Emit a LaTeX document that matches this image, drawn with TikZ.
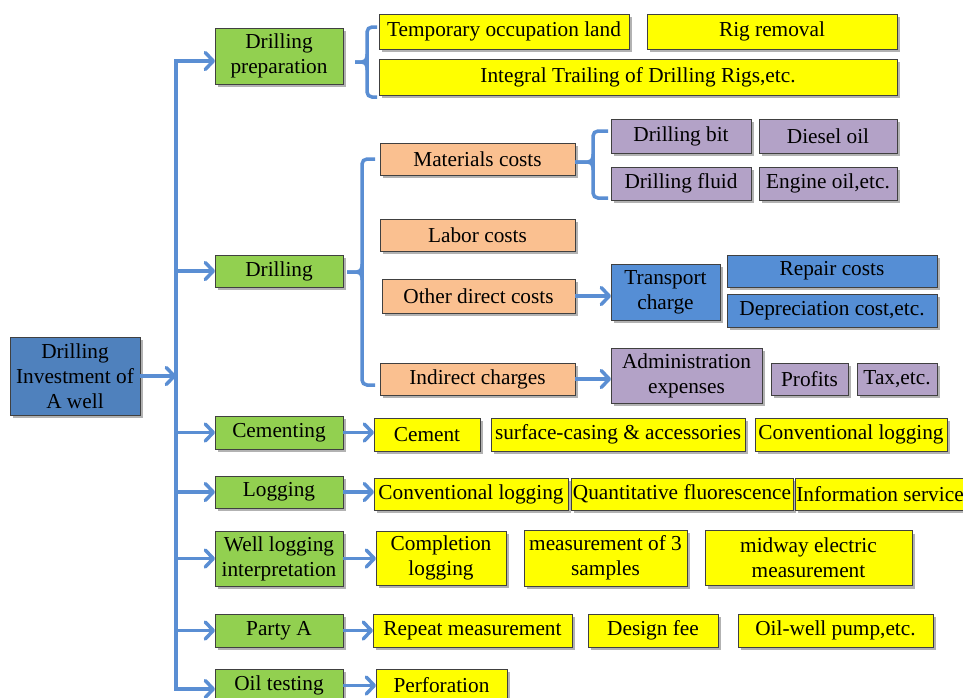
\documentclass[tikz,border=0pt]{standalone}
\usepackage{fontspec}
\setmainfont{Liberation Serif}
\usetikzlibrary{positioning,arrows.meta,shadows}

\definecolor{rootblue}{HTML}{4F81BD}
\definecolor{costblue}{HTML}{558ED5}
\definecolor{linkblue}{HTML}{5A8ED3}
\definecolor{stagegreen}{HTML}{92D050}
\definecolor{itemyellow}{HTML}{FFFF00}
\definecolor{costpeach}{HTML}{FAC090}
\definecolor{costpurple}{HTML}{B3A2C7}
\definecolor{boxline}{HTML}{404040}

\tikzset{
  box/.style={draw=boxline, line width=1pt, inner sep=0.5pt, outer sep=0pt,
    align=center, anchor=north west, font=\fontsize{21.3}{25}\selectfont,
    drop shadow={shadow xshift=3pt, shadow yshift=-3pt, fill=black, opacity=0.3}},
  greenbox/.style={box, fill=stagegreen, minimum width=128pt},
  yellowbox/.style={box, fill=itemyellow},
  peachbox/.style={box, fill=costpeach},
  purplebox/.style={box, fill=costpurple},
  bluebox/.style={box, fill=costblue},
  arr/.style={draw=linkblue, line width=3.5pt},
  brc/.style={draw=linkblue, line width=3.5pt, rounded corners=5pt},
}

\begin{document}
\begin{tikzpicture}[x=1pt, y=-1pt, >={Straight Barb[length=8pt,width=17pt,round]}]
\useasboundingbox (0,0) rectangle (963,697);
% whole investment
\node[box, fill=rootblue, minimum width=130pt, minimum height=78pt] (root) at (10,337) {Drilling\\Investment of\\A well};
% stages
\node[greenbox, minimum height=56pt] (prep) at (215,28) {Drilling\\preparation};
\node[greenbox, minimum height=32pt] (drill) at (215,255) {Drilling};
\node[greenbox, minimum height=33pt] (cement) at (215,416) {Cementing};
\node[greenbox, minimum height=32pt] (logging) at (215,476) {Logging};
\node[greenbox, minimum height=55pt] (interp) at (215,531) {Well logging\\interpretation};
\node[greenbox, minimum height=33pt] (partya) at (215,614) {Party A};
\node[greenbox, minimum height=33pt] (oiltest) at (215,669) {Oil testing};
% drilling preparation
\node[yellowbox, minimum width=250pt, minimum height=35pt] (land) at (379,14) {Temporary occupation land};
\node[yellowbox, minimum width=250pt, minimum height=35pt, right=18pt of land] (rig) {Rig removal};
\node[yellowbox, minimum width=518pt, minimum height=36pt] (trail) at (379,59) {Integral Trailing of Drilling Rigs,etc.};
% drilling
\node[peachbox, minimum width=195pt, minimum height=32pt] (mat) at (380,143) {Materials costs};
\node[peachbox, minimum width=195pt, minimum height=32pt] (labor) at (380,219) {Labor costs};
\node[peachbox, minimum width=193pt, minimum height=34pt] (other) at (382,279) {Other direct costs};
\node[peachbox, minimum width=195pt, minimum height=32pt] (indirect) at (380,363) {Indirect charges};
\node[purplebox, minimum width=140pt, minimum height=34pt] (bit) at (611,119) {Drilling bit};
\node[purplebox, minimum width=138pt, minimum height=34pt, right=8pt of bit] (diesel) {Diesel oil};
\node[purplebox, minimum width=140pt, minimum height=33pt] (fluid) at (611,167) {Drilling fluid};
\node[purplebox, minimum width=138pt, minimum height=33pt, right=8pt of fluid] (engine) {Engine oil,etc.};
\node[bluebox, minimum width=109pt, minimum height=56pt] (transport) at (611,264) {Transport\\charge};
\node[bluebox, minimum width=210pt, minimum height=32pt] (repair) at (727,255) {Repair costs};
\node[bluebox, minimum width=210pt, minimum height=33pt] (deprec) at (727,294) {Depreciation cost,etc.};
\node[purplebox, minimum width=151pt, minimum height=55pt] (admin) at (611,348) {Administration\\expenses};
\node[purplebox, minimum width=77pt, minimum height=32pt] (profits) at (771,363) {Profits};
\node[purplebox, minimum width=80pt, minimum height=32pt, right=9pt of profits] (tax) {Tax,etc.};
% cementing
\node[yellowbox, minimum width=106pt, minimum height=33pt] (cem) at (374,418) {Cement};
\node[yellowbox, minimum width=254pt, minimum height=33pt, right=11pt of cem] (casing) {surface-casing \& accessories};
\node[yellowbox, minimum width=192pt, minimum height=33pt, right=10pt of casing] (convA) {Conventional logging};
% logging
\node[yellowbox, minimum width=194pt, minimum height=32pt] (convB) at (374,478) {Conventional logging};
\node[yellowbox, minimum width=222pt, minimum height=32pt, right=3pt of convB] (fluor) {Quantitative fluorescence};
\node[yellowbox, minimum width=170pt, minimum height=32pt, right=2pt of fluor] (info) {Information service};
% well logging interpretation
\node[yellowbox, minimum width=130pt, minimum height=54pt] (compl) at (376,531) {Completion\\logging};
\node[yellowbox, minimum width=163pt, minimum height=56pt, right=18pt of compl] (samples) {measurement of 3\\samples};
\node[yellowbox, minimum width=207pt, minimum height=55pt, right=18pt of samples] (midway) {midway electric\\measurement};
% party A
\node[yellowbox, minimum width=199pt, minimum height=33pt] (repeat) at (373,614) {Repeat measurement};
\node[yellowbox, minimum width=130pt, minimum height=33pt, right=16pt of repeat] (design) {Design fee};
\node[yellowbox, minimum width=195pt, minimum height=33pt, right=20pt of design] (pump) {Oil-well pump,etc.};
% oil testing
\node[yellowbox, minimum width=131pt, minimum height=33pt] (perf) at (376,669) {Perforation};

% spine and arrows
\coordinate (spine) at (176,400);
\draw[arr,<->] ([yshift=-5pt]prep.west) -| (spine) |- ([yshift=-3.5pt]oiltest.west);
\foreach \n in {drill,cement,logging,interp,partya}
  \draw[arr,->] (spine |- \n.west) -- (\n.west);
\draw[arr,->] (root.east) -- (root.east -| spine);
\foreach \a/\b in {cement/cem,logging/convB,interp/compl,partya/repeat,oiltest/perf}
  \draw[arr,->] (\a.east) -- (\a.east -| \b.west);
\draw[arr,->] (other.east) -- (other.east -| transport.west);
\draw[arr,->] (indirect.east) -- (indirect.east -| admin.west);

% braces
\draw[brc] ([xshift=-2pt,yshift=4.5pt]land.west) -| ++(-10,70) -- ++(10,0);
\draw[brc] ([xshift=12pt,yshift=-6pt]prep.east) -| ++(12,-8);
\draw[brc] ([xshift=12pt,yshift=-6pt]prep.east) -| ++(12,8);
\draw[brc] ([xshift=-5pt]mat.west) -| ++(-13,226) -- ++(13,0);
\draw[brc] ([xshift=4pt,yshift=-1pt]drill.east) -| ++(15,-8);
\draw[brc] ([xshift=4pt,yshift=-1pt]drill.east) -| ++(15,8);
\draw[brc] ([xshift=-3pt,yshift=5pt]bit.west) -| ++(-15,67) -- ++(15,0);
\draw[brc] ([yshift=-3pt]mat.east) -| ++(18,-8);
\draw[brc] ([yshift=-3pt]mat.east) -| ++(18,8);
\end{tikzpicture}
\end{document}
